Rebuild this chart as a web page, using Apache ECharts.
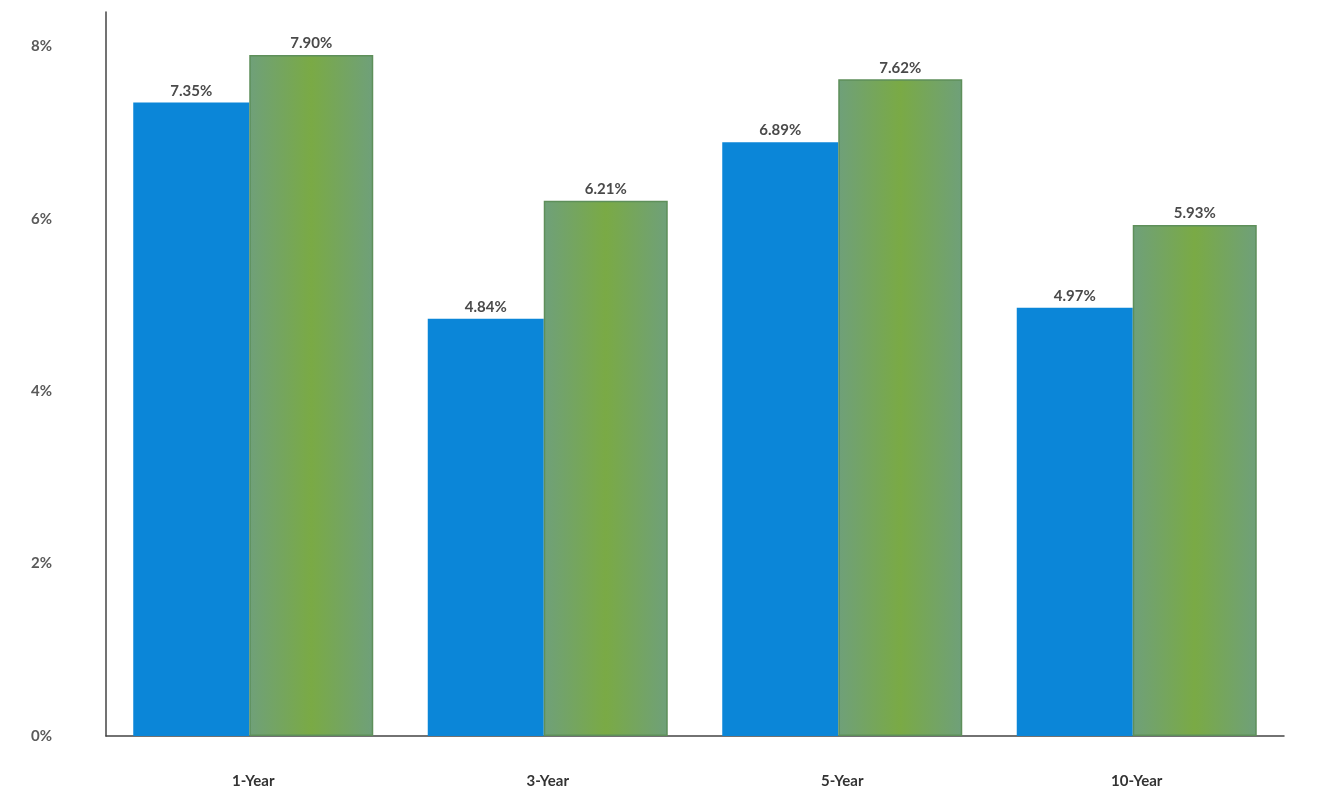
<!DOCTYPE html>
<html><head><meta charset="utf-8">
<script src="https://cdn.jsdelivr.net/npm/echarts@6/dist/echarts.min.js"></script>
<style>html,body{margin:0;padding:0;background:#fff}#c{width:1330px;height:800px}</style>
</head><body><div id="c"></div>
<script>
var categories = ['1-Year', '3-Year', '5-Year', '10-Year'];
var seriesA = [7.35, 4.84, 6.89, 4.97];
var seriesB = [7.90, 6.21, 7.62, 5.93];
var yTicks = [0, 2, 4, 6, 8];

var chart = echarts.init(document.getElementById('c'));
var greenGrad = new echarts.graphic.LinearGradient(0, 0, 1, 0, [
  {offset: 0, color: '#6fa07a'},
  {offset: 0.5, color: '#7aaa45'},
  {offset: 1, color: '#6fa07a'}
]);
var labelStyle = {
  show: true, position: 'top', distance: 4,
  fontFamily: 'Lato', fontSize: 15, fontWeight: 'bold', color: '#4a4a4a',
  formatter: function (p) { return p.value.toFixed(2) + '%'; }
};
chart.setOption({
  animation: false,
  grid: {left: 106, right: 46, top: 12, bottom: 64},
  xAxis: {
    type: 'category', data: categories,
    axisLine: {lineStyle: {color: '#444', width: 1.5}},
    axisTick: {show: false},
    axisLabel: {margin: 38, fontFamily: 'Lato', fontSize: 15, fontWeight: 'bold', color: '#333'}
  },
  yAxis: {
    type: 'value', min: 0, max: 8.4, interval: 2,
    axisLine: {show: true, lineStyle: {color: '#444', width: 1.5}},
    axisTick: {show: false},
    splitLine: {show: false},
    axisLabel: {
      margin: 54, fontFamily: 'Lato', fontSize: 15, fontWeight: 'bold', color: '#5a5a5a',
      formatter: function (v) { return yTicks.indexOf(v) >= 0 ? v + '%' : ''; }
    }
  },
  series: [
    {type: 'bar', data: seriesA, barWidth: 116, barGap: '0%',
     itemStyle: {color: '#0b86d8'}, label: labelStyle},
    {type: 'bar', data: seriesB, barWidth: 124,
     itemStyle: {color: greenGrad, borderColor: '#5e8f5a', borderWidth: 1.5}, label: labelStyle}
  ]
});
</script>
</body></html>
